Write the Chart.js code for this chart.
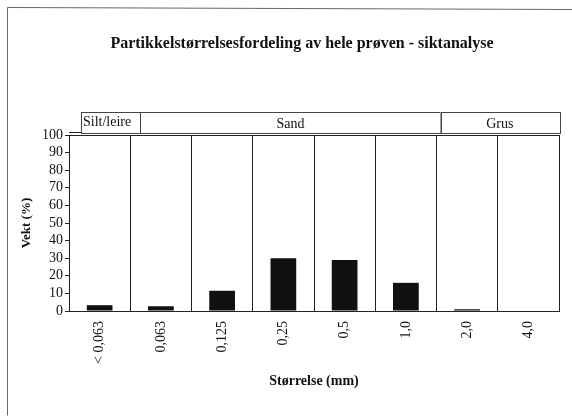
<!DOCTYPE html>
<html>
<head>
<meta charset="utf-8">
<script src="https://cdn.jsdelivr.net/npm/chart.js@4/dist/chart.umd.min.js"></script>
<style>
html,body{margin:0;padding:0;background:#fff;}
#wrap{width:572px;height:416px;position:relative;}
</style>
</head>
<body>
<div id="wrap"><canvas id="c" width="572" height="416"></canvas></div>
<script>
const titleText = 'Partikkelstørrelsesfordeling av hele prøven - siktanalyse';
const categories = ['< 0,063', '0,063', '0,125', '0,25', '0,5', '1,0', '2,0', '4,0'];
const weights = [3.3, 2.7, 11.5, 30, 29, 16, 1, 0];
const yTicks = [0, 10, 20, 30, 40, 50, 60, 70, 80, 90, 100];
const groupLabels = ['Silt/leire', 'Sand', 'Grus'];
const groupFirstCategory = [0, 1, 6];
const groupLastCategory = [0, 5, 7];

const FONT = '"Liberation Serif", "Times New Roman", serif';

const decor = {
  id: 'decor',
  afterDraw(chart) {
    const ctx = chart.ctx;
    const a = chart.chartArea;
    const xs = chart.scales.x;
    const half = (xs.getPixelForValue(1) - xs.getPixelForValue(0)) / 2;
    ctx.save();
    // outer frame
    ctx.strokeStyle = '#666';
    ctx.lineWidth = 1;
    ctx.beginPath();
    ctx.moveTo(7.5, 415.5);
    ctx.lineTo(7.5, 7.5);
    ctx.lineTo(572, 9.5);
    ctx.stroke();
    // title
    ctx.fillStyle = '#111';
    ctx.font = 'bold 16px ' + FONT;
    ctx.textAlign = 'center';
    ctx.textBaseline = 'middle';
    ctx.fillText(titleText, 302, 44);
    // plot frame lines
    ctx.strokeStyle = '#222';
    ctx.beginPath();
    ctx.moveTo(a.left, Math.round(a.top) - 2.5);
    ctx.lineTo(a.right, Math.round(a.top) - 2.5);
    ctx.moveTo(a.left, Math.round(a.top) + 0.5);
    ctx.lineTo(a.right, Math.round(a.top) + 0.5);
    ctx.moveTo(a.left, Math.round(a.bottom) + 0.5);
    ctx.lineTo(a.right, Math.round(a.bottom) + 0.5);
    ctx.stroke();
    // group header boxes
    const boxTop = a.top - 23;
    const boxBottom = a.top + 1;
    ctx.font = '14px ' + FONT;
    for (let i = 0; i < groupLabels.length; i++) {
      let x0 = xs.getPixelForValue(groupFirstCategory[i]) - half;
      let x1 = xs.getPixelForValue(groupLastCategory[i]) + half;
      if (i === 0) x0 += 12;
      if (i < groupLabels.length - 1) x1 += (i === 0 ? 10 : 4);
      if (i > 0) x0 += (i === 1 ? 10 : 4);
      ctx.fillStyle = '#fff';
      ctx.fillRect(x0, boxTop, x1 - x0, boxBottom - boxTop - 3);
      ctx.strokeStyle = '#444';
      ctx.strokeRect(Math.round(x0) + 0.5, Math.round(boxTop) + 0.5, Math.round(x1 - x0), Math.round(boxBottom - boxTop) - 3);
      ctx.fillStyle = '#111';
      if (i === 0) {
        ctx.textAlign = 'left';
        ctx.fillText(groupLabels[i], x0 + 2, boxTop + 10);
      } else {
        ctx.textAlign = 'center';
        ctx.fillText(groupLabels[i], (x0 + x1) / 2, boxTop + 12);
      }
    }
    ctx.restore();
  }
};

new Chart(document.getElementById('c'), {
  type: 'bar',
  data: {
    labels: categories,
    datasets: [{
      data: weights,
      backgroundColor: '#111',
      borderColor: '#111',
      borderWidth: 0,
      categoryPercentage: 1,
      barPercentage: 0.42
    }]
  },
  options: {
    responsive: false,
    animation: false,
    events: [],
    layout: { padding: { top: 135, left: 15, right: 13, bottom: 22 } },
    plugins: { legend: { display: false }, title: { display: false }, tooltip: { enabled: false } },
    scales: {
      x: {
        offset: true,
        grid: { display: true, offset: true, color: '#222', lineWidth: 1, drawTicks: false, drawOnChartArea: true },
        border: { display: true, color: '#222' },
        ticks: { color: '#111', font: { family: FONT, size: 14 }, minRotation: 90, maxRotation: 90, padding: 10, autoSkip: false },
        title: { display: true, text: 'Størrelse (mm)', color: '#111', font: { family: FONT, size: 14, weight: 'bold' }, padding: { top: 4, bottom: 4 } },
        afterFit(s) { s.height = 416 - 22 - 311; }
      },
      y: {
        min: 0, max: 100,
        afterBuildTicks(s) { s.ticks = yTicks.map(v => ({ value: v })); },
        grid: { display: true, drawOnChartArea: false, drawTicks: true, tickLength: 4, color: '#222' },
        border: { display: true, color: '#222' },
        ticks: { color: '#111', font: { family: FONT, size: 14 }, padding: 2, autoSkip: false },
        title: { display: true, text: 'Vekt (%)', color: '#111', font: { family: FONT, size: 13, weight: 'bold' }, padding: 4 },
        afterFit(s) { s.width = 69 - 15; }
      }
    }
  },
  plugins: [decor]
});
</script>
</body>
</html>
